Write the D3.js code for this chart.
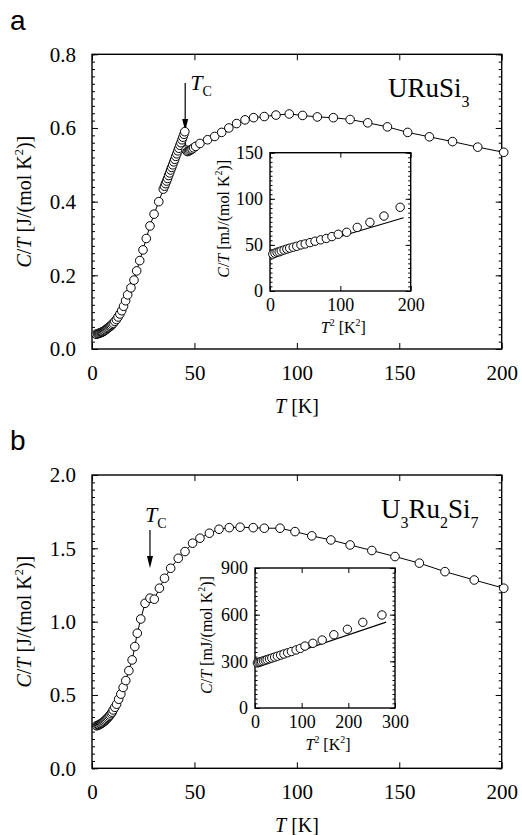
<!DOCTYPE html>
<html>
<head>
<meta charset="utf-8">
<script src="https://cdn.jsdelivr.net/npm/d3@7"></script>
<style>
body { margin: 0; background: #fff; }
svg text { font-family: "Liberation Serif", "Times New Roman", serif; fill: #000; }
</style>
</head>
<body>
<div id="vis"></div>
<script>
// ---- panel a : URuSi3, C/T vs T
var tempA = [2, 2.65, 3.16, 3.6, 4, 4.47, 4.9, 5.29, 5.74, 6.16, 6.63, 7.07, 7.55, 8, 8.49, 8.94, 9.38, 9.85, 10.44, 11.14, 11.92, 12.73, 13.6,
    14.5, 15.4, 16.4, 17.4, 19, 20.5, 21.8, 23.3, 24.9, 26.5, 28.3, 30.3, 32.6, 34.8,
    35.4, 35.9, 36.4, 36.9, 37.4, 37.9, 38.4, 38.9, 39.4, 39.9, 40.4, 40.9, 41.4, 41.9, 42.4, 42.9, 43.4, 43.9, 44.4, 44.9, 45.3,
    45.9, 46.5, 47.1, 47.7, 48.3, 48.9, 49.6, 50.6,
    52.7, 56.4, 59.9, 63.3, 66.8, 70.6, 74.7, 78.9, 84.1, 89.8, 96.3, 102.8, 110, 117.8, 126, 134.6, 144.2, 154.1, 164.7, 176, 188.3, 201];
var ctA = [0.040, 0.041, 0.042, 0.043, 0.044, 0.045, 0.046, 0.047, 0.048, 0.050, 0.052, 0.054, 0.056, 0.058, 0.060, 0.062, 0.064, 0.067, 0.070, 0.075, 0.080, 0.087, 0.095,
    0.104, 0.116, 0.131, 0.147, 0.166, 0.187, 0.212, 0.240, 0.269, 0.300, 0.334, 0.366, 0.400, 0.434,
    0.442, 0.449, 0.456, 0.463, 0.471, 0.478, 0.486, 0.493, 0.500, 0.508, 0.515, 0.523, 0.530, 0.538, 0.545, 0.553, 0.560, 0.568, 0.575, 0.583, 0.590,
    0.540, 0.536, 0.537, 0.539, 0.541, 0.543, 0.546, 0.550,
    0.558, 0.568, 0.577, 0.588, 0.600, 0.612, 0.622, 0.628, 0.631, 0.635, 0.638, 0.634, 0.630, 0.628, 0.623, 0.614, 0.603, 0.588, 0.576, 0.563, 0.548, 0.534];

// inset a : C/T (mJ) vs T^2
var t2A = [4, 7, 10, 13, 16, 20, 24, 28, 33, 38, 44, 50, 57, 64, 72, 80, 88, 97, 109, 124, 142, 162, 185];
var ctInsA = [40, 41, 42, 42.5, 43.5, 44.5, 45.5, 46.5, 47.5, 48.5, 50, 51, 52.5, 54, 55.5, 57, 59, 61.5, 63.7, 69, 74.5, 81.3, 90.8];
var fitXA = [0, 190];
var fitYA = [36.6, 79.5];

// ---- panel b : U3Ru2Si7
var tempB = [2.24, 2.83, 3.32, 3.74, 4.24, 4.69, 5.1, 5.57, 6, 6.48, 6.93, 7.42, 7.87, 8.37, 8.83, 9.38, 9.85, 10.34, 11.14, 12, 13, 14.07, 15.2, 16.49,
    18, 19.6, 20.9, 22.1, 23.8, 25.9, 28.3, 30.4, 32.9, 35.4, 38.4, 42.1, 45.4, 49.1, 52.7, 57.3, 62, 67, 72.3, 78.7,
    84.1, 91.8, 99.1, 107.3, 116.6, 126, 136.6, 147.9, 159.8, 172.3, 186.6, 201];
var ctB = [0.290, 0.293, 0.296, 0.299, 0.303, 0.307, 0.311, 0.316, 0.321, 0.327, 0.333, 0.340, 0.347, 0.355, 0.363, 0.373, 0.383, 0.398, 0.416, 0.437, 0.471, 0.506, 0.551, 0.598,
    0.666, 0.739, 0.830, 0.921, 1.018, 1.125, 1.160, 1.153, 1.228, 1.296, 1.364, 1.432, 1.478, 1.535, 1.569, 1.603, 1.630, 1.641, 1.644, 1.641,
    1.637, 1.637, 1.614, 1.585, 1.557, 1.523, 1.485, 1.444, 1.399, 1.341, 1.284, 1.228];

var t2B = [5, 8, 11, 14, 18, 22, 26, 31, 36, 42, 48, 55, 62, 70, 78, 88, 97, 107, 124, 144, 169, 198, 231, 272];
var ctInsB = [290, 293, 296, 299, 303, 307, 311, 316, 321, 327, 333, 340, 347, 355, 363, 373, 383, 398, 416, 437, 471, 506, 551, 598];
var fitXB = [0, 281];
var fitYB = [268, 552];

// tick labels
var xTicksMain = [0, 50, 100, 150, 200];
var yTicksA = [0, 0.2, 0.4, 0.6, 0.8];
var yTicksB = [0, 0.5, 1.0, 1.5, 2.0];
var xTicksInsA = [0, 100, 200];
var yTicksInsA = [0, 50, 100, 150];
var xTicksInsB = [0, 100, 200, 300];
var yTicksInsB = [0, 300, 600, 900];

var serif = '"Liberation Serif", "Times New Roman", serif';
var width = 522, height = 835;
var svg = d3.select('#vis').append('svg')
    .attr('width', width)
    .attr('height', height);

svg.append('rect').attr('width', width).attr('height', height).attr('fill', '#fff');

function rich(sel, parts, fs) {
    var shift = 0;
    parts.forEach(function (p) {
        var target = p.sup ? -0.42 * fs : (p.sub ? (p.off || 0.3 * fs) : 0);
        sel.append('tspan')
            .attr('dy', target - shift)
            .attr('font-size', (p.sup || p.sub) ? (p.fs || 0.62 * fs) : fs)
            .style('font-style', p.i ? 'italic' : null)
            .text(p.t);
        shift = target;
    });
}

// frame with inward ticks on all four sides
function frame(g, x, y, o) {
    var xr = x.range(), yr = y.range();
    var fx = o.fx || d3.format('d');
    var fy = o.fy || d3.format('d');

    var bottom = g.append('g').attr('transform', 'translate(0,' + yr[0] + ')')
        .call(d3.axisBottom(x).tickValues(o.xt).tickSizeInner(-o.major).tickSizeOuter(0).tickPadding(o.padX).tickFormat(fx));
    var top = g.append('g').attr('transform', 'translate(0,' + yr[1] + ')')
        .call(d3.axisTop(x).tickValues(o.xt).tickSizeInner(-o.major).tickSizeOuter(0).tickFormat(''));
    var left = g.append('g').attr('transform', 'translate(' + xr[0] + ',0)')
        .call(d3.axisLeft(y).tickValues(o.yt).tickSizeInner(-o.major).tickSizeOuter(0).tickPadding(o.padY).tickFormat(fy));
    var right = g.append('g').attr('transform', 'translate(' + xr[1] + ',0)')
        .call(d3.axisRight(y).tickValues(o.yt).tickSizeInner(-o.major).tickSizeOuter(0).tickFormat(''));
    var minL = g.append('g').attr('transform', 'translate(' + xr[0] + ',0)')
        .call(d3.axisLeft(y).tickValues(o.ym).tickSizeInner(-o.minor).tickSizeOuter(0).tickFormat(''));
    var minR = g.append('g').attr('transform', 'translate(' + xr[1] + ',0)')
        .call(d3.axisRight(y).tickValues(o.ym).tickSizeInner(-o.minor).tickSizeOuter(0).tickFormat(''));

    [bottom, top, left, right, minL, minR].forEach(function (a) {
        a.select('.domain').remove();
        a.selectAll('line').attr('stroke', '#000').attr('stroke-width', 1);
        a.selectAll('text')
            .style('font-family', serif)
            .style('font-size', o.fs + 'px')
            .style('fill', '#000');
    });

    g.append('rect')
        .attr('x', xr[0]).attr('y', yr[1])
        .attr('width', xr[1] - xr[0]).attr('height', yr[0] - yr[1])
        .attr('fill', 'none').attr('stroke', '#000').attr('stroke-width', 1.4);
}

function series(g, x, y, xs, ys, r, withLine) {
    var pts = xs.map(function (v, i) { return [x(v), y(ys[i])]; });
    if (withLine) {
        g.append('path')
            .attr('d', d3.line()(pts))
            .attr('fill', 'none').attr('stroke', '#000').attr('stroke-width', 1);
    }
    g.selectAll(null).data(pts).enter().append('circle')
        .attr('cx', function (d) { return d[0]; })
        .attr('cy', function (d) { return d[1]; })
        .attr('r', r)
        .attr('fill', '#fff').attr('stroke', '#000').attr('stroke-width', 1);
}

function arrow(g, x, yTop, yTip) {
    g.append('line').attr('x1', x).attr('x2', x).attr('y1', yTop).attr('y2', yTip - 10)
        .attr('stroke', '#000').attr('stroke-width', 1.2);
    g.append('path')
        .attr('d', 'M' + (x - 3) + ',' + (yTip - 12) + 'L' + (x + 3) + ',' + (yTip - 12) + 'L' + x + ',' + yTip + 'Z')
        .attr('fill', '#000');
}

function drawPanel(p) {
    var g = svg.append('g');

    g.append('text').attr('x', p.letterX).attr('y', p.letterY)
        .style('font-family', '"Liberation Sans", Arial, sans-serif')
        .style('font-size', '28px').text(p.letter);

    var x = d3.scaleLinear().domain([0, 200]).range([92, 501.7]);
    var y = d3.scaleLinear().domain(p.yDomain).range([p.bottom, p.top]);

    frame(g, x, y, {
        xt: xTicksMain, yt: p.yTicks, ym: p.yMinor,
        major: 6, minor: 3, padX: 16, padY: 16, fs: 21,
        fx: d3.format('d'), fy: d3.format('.1f')
    });

    // axis titles
    var yt = g.append('text')
        .attr('transform', 'translate(31,' + ((p.top + p.bottom) / 2) + ') rotate(-90)')
        .attr('text-anchor', 'middle');
    rich(yt, [{ t: 'C', i: true }, { t: '/' }, { t: 'T', i: true }, { t: ' [J/(mol K' }, { t: '2', sup: true }, { t: ')]' }], 20);

    var xt = g.append('text').attr('x', 297).attr('y', p.bottom + 64).attr('text-anchor', 'middle');
    rich(xt, [{ t: 'T', i: true }, { t: ' [K]' }], 20);

    // compound label
    var cl = g.append('text').attr('x', p.nameX).attr('y', p.nameY);
    rich(cl, p.name, 27);

    // Tc arrow
    arrow(g, x(p.tc), y(p.arrowTop), y(p.arrowTip));
    var tcl = g.append('text').attr('x', x(p.tc) + p.tcDx).attr('y', y(p.arrowTop) + p.tcDy);
    rich(tcl, [{ t: 'T', i: true }, { t: 'C', sub: true, fs: 14, off: 6 }], 22);

    // data
    series(g, x, y, p.tx, p.cy, 4.3, true);

    // inset
    var ix = d3.scaleLinear().domain(p.insX).range([p.inL, p.inR]);
    var iy = d3.scaleLinear().domain(p.insY).range([p.inB, p.inT]);
    g.append('rect').attr('x', p.inL).attr('y', p.inT)
        .attr('width', p.inR - p.inL).attr('height', p.inB - p.inT).attr('fill', '#fff');
    frame(g, ix, iy, {
        xt: p.insXT, yt: p.insYT, ym: p.insYM,
        major: 5, minor: 2.5, padX: 7, padY: 7, fs: 18
    });

    g.append('path')
        .attr('d', d3.line()(p.fitX.map(function (v, i) { return [ix(v), iy(p.fitY[i])]; })))
        .attr('fill', 'none').attr('stroke', '#000').attr('stroke-width', 1.1);
    series(g, ix, iy, p.insTx, p.insCy, 4.2, false);

    var iyt = g.append('text')
        .attr('transform', 'translate(' + p.insTitleX + ',' + ((p.inT + p.inB) / 2 - 3) + ') rotate(-90)')
        .attr('text-anchor', 'middle');
    rich(iyt, [{ t: 'C', i: true }, { t: '/' }, { t: 'T', i: true }, { t: ' [mJ/(mol K' }, { t: '2', sup: true }, { t: ')]' }], 16);

    var ixt = g.append('text').attr('x', (p.inL + p.inR) / 2 + 3).attr('y', p.inB + 42).attr('text-anchor', 'middle');
    rich(ixt, [{ t: 'T', i: true }, { t: '2', sup: true }, { t: ' [K' }, { t: '2', sup: true }, { t: ']' }], 16);
}

drawPanel({
    letter: 'a', letterX: 10, letterY: 30,
    yDomain: [0, 0.8], top: 54.3, bottom: 349,
    yTicks: yTicksA, yMinor: d3.range(0, 0.801, 0.02),
    name: [{ t: 'URuSi' }, { t: '3', sub: true, fs: 16, off: 10 }], nameX: 388, nameY: 97,
    tc: 45.5, arrowTop: 0.722, arrowTip: 0.592, tcDx: 5, tcDy: 7,
    tx: tempA, cy: ctA,
    insX: [0, 200], insY: [0, 150], inL: 270, inR: 410.7, inT: 152.7, inB: 291,
    insXT: xTicksInsA, insYT: yTicksInsA, insYM: d3.range(0, 150.1, 5),
    insTx: t2A, insCy: ctInsA, fitX: fitXA, fitY: fitYA,
    insTitleX: 229
});

drawPanel({
    letter: 'b', letterX: 10, letterY: 450,
    yDomain: [0, 2], top: 475, bottom: 768.3,
    yTicks: yTicksB, yMinor: d3.range(0, 2.001, 0.05),
    name: [{ t: 'U' }, { t: '3', sub: true, fs: 16, off: 10 }, { t: 'Ru' }, { t: '2', sub: true, fs: 16, off: 10 }, { t: 'Si' }, { t: '7', sub: true, fs: 16, off: 10 }],
    nameX: 381, nameY: 518,
    tc: 28.3, arrowTop: 1.625, arrowTip: 1.365, tcDx: -5, tcDy: -8,
    tx: tempB, cy: ctB,
    insX: [0, 300], insY: [0, 900], inL: 255, inR: 395, inT: 568, inB: 708,
    insXT: xTicksInsB, insYT: yTicksInsB, insYM: d3.range(0, 900.1, 30),
    insTx: t2B, insCy: ctInsB, fitX: fitXB, fitY: fitYB,
    insTitleX: 212
});
</script>
</body>
</html>
